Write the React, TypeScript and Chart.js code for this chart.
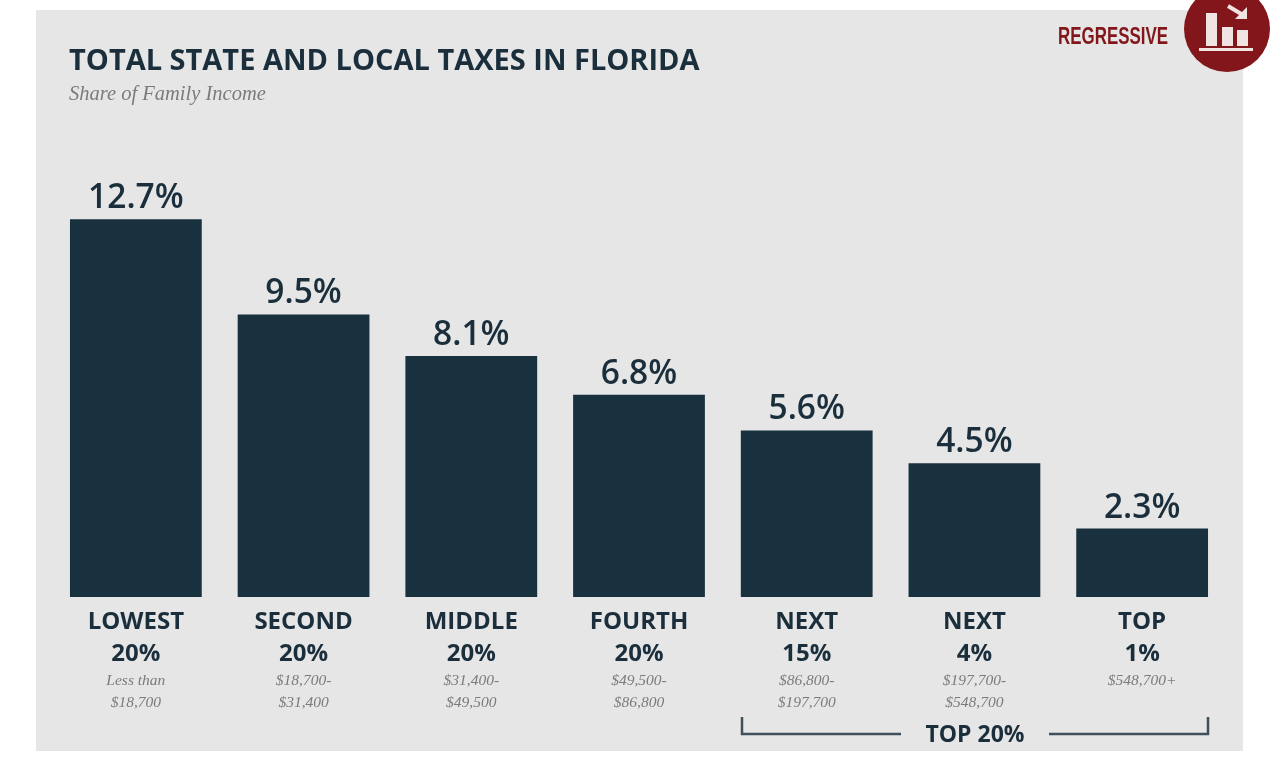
import React, { useEffect, useRef } from "react";
import { Chart, registerables } from "chart.js";

Chart.register(...registerables);

const groups = ["LOWEST", "SECOND", "MIDDLE", "FOURTH", "NEXT", "NEXT", "TOP"];
const shares = ["20%", "20%", "20%", "20%", "15%", "4%", "1%"];
const incomeLine1 = ["Less than", "$18,700-", "$31,400-", "$49,500-", "$86,800-", "$197,700-", "$548,700+"];
const incomeLine2 = ["$18,700", "$31,400", "$49,500", "$86,800", "$197,700", "$548,700", ""];
const taxShare = [12.7, 9.5, 8.1, 6.8, 5.6, 4.5, 2.3];
const valueLabels = ["12.7%", "9.5%", "8.1%", "6.8%", "5.6%", "4.5%", "2.3%"];

const NAVY = "#19303f";
const TEXT = "#1a2e3c";
const RED = "#82161a";
const SANS = '"Open Sans", sans-serif';

const decor = {
  id: "decor",
  beforeDraw(chart: any) {
    const c = chart.ctx;
    c.save();
    c.fillStyle = "#ffffff";
    c.fillRect(0, 0, 1278, 760);
    c.fillStyle = "#e6e6e6";
    c.fillRect(36, 10, 1207, 741);
    c.restore();
  },
  afterDraw(chart: any) {
    const c = chart.ctx;
    const x = chart.scales.x;
    const meta = chart.getDatasetMeta(0);
    c.save();

    // title and subtitle
    c.textBaseline = "alphabetic";
    c.textAlign = "left";
    c.fillStyle = TEXT;
    c.font = `700 29px ${SANS}`;
    c.fillText("TOTAL STATE AND LOCAL TAXES IN FLORIDA", 69, 70);
    c.fillStyle = "#7b7b7b";
    c.font = 'italic 20.5px "Liberation Serif", serif';
    c.fillText("Share of Family Income", 69, 100);

    // value labels above bars
    c.textAlign = "center";
    c.fillStyle = TEXT;
    c.font = `600 33.5px ${SANS}`;
    meta.data.forEach((bar: any, i: number) => {
      c.fillText(valueLabels[i], bar.x, bar.y - 11);
    });

    // income ranges
    c.fillStyle = "#7b7b7b";
    c.font = 'italic 15.5px "Liberation Serif", serif';
    groups.forEach((_, i) => {
      const px = x.getPixelForTick(i);
      c.fillText(incomeLine1[i], px, 685);
      if (incomeLine2[i]) c.fillText(incomeLine2[i], px, 707);
    });

    // TOP 20% bracket
    c.strokeStyle = "#3f505c";
    c.lineWidth = 2.5;
    c.beginPath();
    c.moveTo(742, 717);
    c.lineTo(742, 734);
    c.lineTo(901, 734);
    c.moveTo(1049, 734);
    c.lineTo(1208, 734);
    c.lineTo(1208, 717);
    c.stroke();
    c.fillStyle = TEXT;
    c.font = `700 23px ${SANS}`;
    c.fillText("TOP 20%", 975, 742, 100);

    // Regressive badge
    c.fillStyle = RED;
    c.font = '700 23px "Liberation Sans", sans-serif';
    c.textAlign = "right";
    c.fillText("REGRESSIVE", 1168, 44, 110);
    c.beginPath();
    c.arc(1227, 29, 43, 0, Math.PI * 2);
    c.fill();
    c.fillStyle = "#f0e4e2";
    c.fillRect(1206, 13, 11, 33);
    c.fillRect(1222, 27, 11, 19);
    c.fillRect(1237, 30, 11, 16);
    c.fillRect(1199, 48, 54, 3);
    c.strokeStyle = "#f0e4e2";
    c.lineWidth = 4;
    c.beginPath();
    c.moveTo(1228, 6);
    c.lineTo(1243, 15);
    c.stroke();
    c.beginPath();
    c.moveTo(1247, 19);
    c.lineTo(1247, 7);
    c.lineTo(1235, 19);
    c.closePath();
    c.fillStyle = "#f0e4e2";
    c.fill();
    c.restore();
  },
};

export default function App() {
  const ref = useRef<HTMLCanvasElement>(null);
  useEffect(() => {
    document.body.style.margin = "0";
    const chart = new Chart(ref.current as HTMLCanvasElement, {
      type: "bar",
      data: {
        labels: groups,
        datasets: [
          {
            data: taxShare,
            backgroundColor: NAVY,
            categoryPercentage: 1,
            barPercentage: 132 / 168,
          },
        ],
      },
      options: {
        animation: false,
        responsive: false,
        devicePixelRatio: 1,
        layout: { padding: { left: 52, right: 52, top: 2, bottom: 0 } },
        plugins: { legend: { display: false }, tooltip: { enabled: false } },
        scales: {
          x: {
            grid: { display: false },
            border: { display: false },
            ticks: {
              autoSkip: false,
              maxRotation: 0,
              padding: 2,
              color: TEXT,
              font: { family: SANS, size: 24, weight: "700", lineHeight: 1.3 },
              callback: (_: any, i: number) => [groups[i], shares[i]],
            },
            afterFit(scale: any) {
              scale.height = 163;
            },
          },
          y: { display: false, min: 0, max: 20 },
        },
      },
      plugins: [decor],
    } as any);
    return () => chart.destroy();
  }, []);
  return <canvas ref={ref} width={1278} height={760} style={{ display: "block" }} />;
}
